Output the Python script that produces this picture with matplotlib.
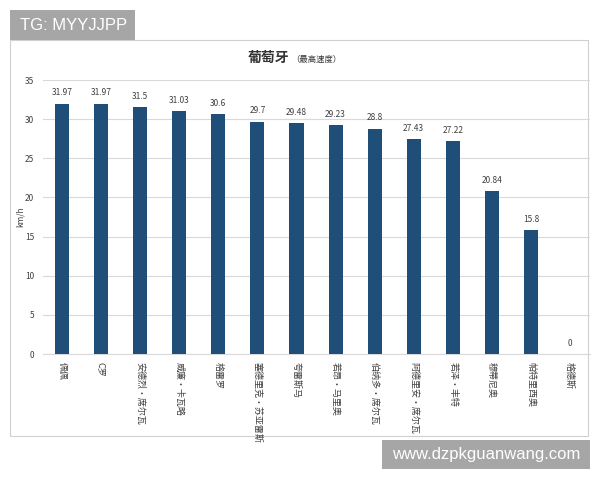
import matplotlib
matplotlib.use("Agg")
import matplotlib.pyplot as plt
from matplotlib.patches import Rectangle

plt.rcParams["font.family"] = ["Noto Sans CJK SC", "DejaVu Sans"]

PLAYERS = [
    "佩佩", "C罗", "安德烈·席尔瓦", "威廉·卡瓦略", "格雷罗",
    "塞德里克·苏亚雷斯", "夸雷斯马", "若昂·马里奥", "伯纳多·席尔瓦",
    "阿德里安·席尔瓦", "若泽·丰特", "穆蒂尼奥", "帕特里西奥", "格德斯",
]
TOP_SPEED = [31.97, 31.97, 31.5, 31.03, 30.6, 29.7, 29.48, 29.23, 28.8,
             27.43, 27.22, 20.84, 15.8, 0]
VALUE_LABELS = ["31.97", "31.97", "31.5", "31.03", "30.6", "29.7", "29.48",
                "29.23", "28.8", "27.43", "27.22", "20.84", "15.8", "0"]
Y_TICKS = [0, 5, 10, 15, 20, 25, 30, 35]

BAR_COLOR = "#1f4e79"
GRID_COLOR = "#d9d9d9"
TEXT_COLOR = "#404040"
MARK_GRAY = "#a6a6a6"


def fig_rect(x0, y0, x1, y1, **kw):
    # pixel box (top-left origin) -> figure patch
    return Rectangle((x0 / 600, 1 - y1 / 480), (x1 - x0) / 600,
                     (y1 - y0) / 480, transform=fig.transFigure, **kw)


fig = plt.figure(figsize=(6, 4.8), dpi=100)

# chart panel border
fig.patches.append(fig_rect(10, 40, 588, 436, facecolor="none",
                            edgecolor="#d0d0d0", linewidth=0.8, zorder=-1))

ax = fig.add_axes([0.071, 0.2625, 0.9115, 0.5708])
x = range(len(PLAYERS))
ax.bar(x, TOP_SPEED, width=0.36, color=BAR_COLOR, zorder=3)
for xi, v, lab in zip(x, TOP_SPEED, VALUE_LABELS):
    ax.text(xi, v + 0.8, lab, ha="center", va="bottom", fontsize=6,
            color=TEXT_COLOR)

ax.set_xlim(-0.5, len(PLAYERS) - 0.5)
ax.set_ylim(0, 35)
ax.set_yticks(Y_TICKS)
ax.set_yticklabels([str(t) for t in Y_TICKS], fontsize=6, color=TEXT_COLOR)
ax.set_xticks(list(x))
ax.set_xticklabels(PLAYERS, rotation=-90, fontsize=6.5, color=TEXT_COLOR,
                   va="top", ha="center")
ax.tick_params(length=0, pad=6)
ax.yaxis.grid(True, color=GRID_COLOR, linewidth=0.8, zorder=0)
for side in ["top", "right", "left"]:
    ax.spines[side].set_visible(False)
ax.spines["bottom"].set_color(GRID_COLOR)
ax.set_facecolor("none")
ax.set_ylabel("km/h", fontsize=6, color=TEXT_COLOR, labelpad=0.5)

# title
fig.text(289 / 600, 1 - 58 / 480, "葡萄牙", ha="right", va="center",
         fontsize=10, fontweight="bold", color="#333333")
fig.text(291 / 600, 1 - 59 / 480, "（最高速度）", ha="left", va="center",
         fontsize=6, color="#333333")

# watermark boxes
fig.patches.append(fig_rect(10, 10, 135, 40, facecolor=MARK_GRAY,
                            edgecolor="none"))
fig.patches.append(fig_rect(382, 440, 590, 469, facecolor=MARK_GRAY,
                            edgecolor="none"))
fig.text(20 / 600, 1 - 25 / 480, "TG: MYYJJPP", ha="left", va="center",
         fontsize=12, color="white", family=["Liberation Sans"])
fig.text(486 / 600, 1 - 455 / 480, "www.dzpkguanwang.com", ha="center",
         va="center", fontsize=12, color="white", family=["Liberation Sans"])

fig.savefig("out.png", dpi=100)
